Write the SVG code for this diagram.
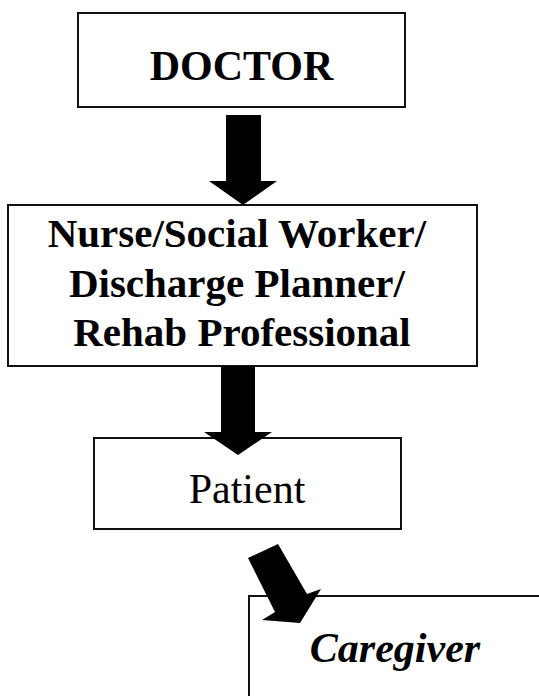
<svg xmlns="http://www.w3.org/2000/svg" width="539" height="696" viewBox="0 0 539 696">
  <style>
    .box { fill: #ffffff; stroke: #111111; stroke-width: 2; }
    .lbl { font-family: 'Liberation Serif', 'DejaVu Serif', serif; fill: #000000; text-anchor: middle; }
    .bold { font-weight: bold; }
    .arrow { fill: #000000; stroke: none; }
  </style>
  <rect width="539" height="696" fill="#ffffff"/>

  <g id="node-doctor">
    <rect class="box" x="78" y="13" width="327" height="94"/>
    <text class="lbl bold" x="241.5" y="80" font-size="42">DOCTOR</text>
  </g>

  <g id="node-staff">
    <rect class="box" x="8" y="205" width="469" height="161"/>
    <text class="lbl bold" font-size="41">
      <tspan x="242" y="247">Nurse/Social Worker/</tspan>
      <tspan x="242" y="297">Discharge Planner/</tspan>
      <tspan x="242" y="346">Rehab Professional</tspan>
    </text>
  </g>

  <g id="node-patient">
    <rect class="box" x="94" y="438" width="307" height="91"/>
    <text class="lbl" x="247" y="503" font-size="42">Patient</text>
  </g>

  <g id="node-caregiver">
    <rect class="box" x="249" y="596" width="300" height="110"/>
    <text class="lbl bold" x="395" y="662" font-size="42" font-style="italic">Caregiver</text>
  </g>

  <g id="connectors">
    <!-- doctor to staff -->
    <polygon class="arrow" points="226,115 261,115 261,181 277,181 243,205 209,181 226,181"/>
    <!-- staff to patient -->
    <polygon class="arrow" points="221,366 255,366 255,432 272,432 238,455 204,432 221,432"/>
    <!-- patient to caregiver -->
    <polygon class="arrow" points="248,558 278,544 307,594 321,589 300,623 262,620 275,612"/>
  </g>
</svg>
